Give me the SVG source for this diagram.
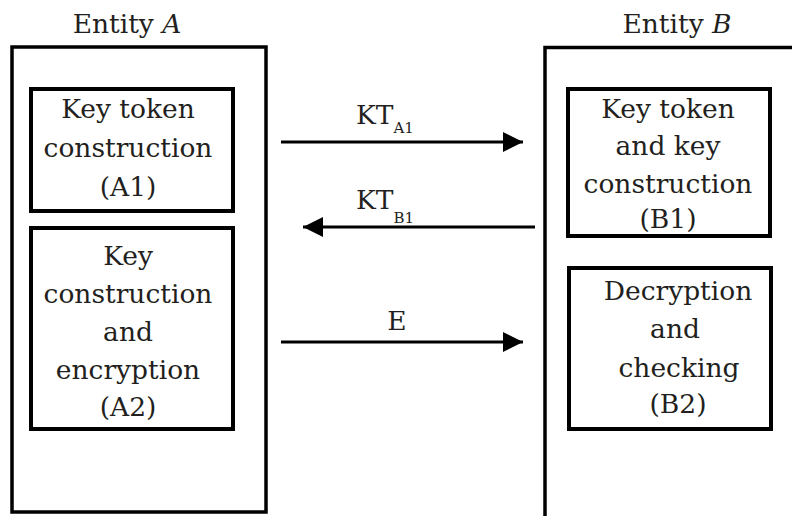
<svg xmlns="http://www.w3.org/2000/svg" width="792" height="516" viewBox="0 0 792 516">
<style>
text{font-family:"DejaVu Serif","Liberation Serif",serif;font-size:26.5px;fill:#231f20;text-anchor:middle}
.sub{font-size:15px;text-anchor:start}
.lab{text-anchor:start}
.outer{fill:none;stroke:#000;stroke-width:3.5}
.box{fill:#fff;stroke:#000;stroke-width:4}
.conn{stroke:#000;stroke-width:3;fill:none}
</style>
<defs>
<marker id="ah" viewBox="0 0 20 20" refX="20" refY="10" markerWidth="20" markerHeight="20" markerUnits="userSpaceOnUse" orient="auto">
<path d="M0,0 L20,10 L0,20 Z" fill="#000"/>
</marker>
</defs>
<g id="entityA">
<text x="127" y="33">Entity <tspan font-style="italic">A</tspan></text>
<rect class="outer" x="12" y="47" width="254" height="465"/>
</g>
<g id="entityB">
<text x="677" y="33">Entity <tspan font-style="italic">B</tspan></text>
<path class="outer" d="M545,516 V47.5 H792"/>
</g>
<g id="A1">
<rect class="box" x="31" y="89" width="202" height="122"/>
<text x="128" y="118">Key token</text>
<text x="128" y="157">construction</text>
<text x="128" y="196">(A1)</text>
</g>
<g id="A2">
<rect class="box" x="31" y="228" width="202" height="201"/>
<text x="128" y="265">Key</text>
<text x="128" y="303">construction</text>
<text x="128" y="341">and</text>
<text x="128" y="379">encryption</text>
<text x="128" y="416">(A2)</text>
</g>
<g id="B1">
<rect class="box" x="568" y="89" width="202" height="147"/>
<text x="668" y="118">Key token</text>
<text x="668" y="155">and key</text>
<text x="668" y="193">construction</text>
<text x="668" y="228">(B1)</text>
</g>
<g id="B2">
<rect class="box" x="569" y="268" width="202" height="161"/>
<text x="678" y="300">Decryption</text>
<text x="675" y="338">and</text>
<text x="679" y="377">checking</text>
<text x="678" y="413">(B2)</text>
</g>
<g id="connectors">
<line class="conn" x1="281" y1="142" x2="523" y2="142" marker-end="url(#ah)"/>
<line class="conn" x1="535" y1="227" x2="303" y2="227" marker-end="url(#ah)"/>
<line class="conn" x1="281" y1="342" x2="523" y2="342" marker-end="url(#ah)"/>
<text class="lab" x="356" y="124">KT<tspan class="sub" dy="9">A1</tspan></text>
<text class="lab" x="356" y="209">KT<tspan class="sub" dy="14">B1</tspan></text>
<text x="397" y="330">E</text>
</g>
</svg>
